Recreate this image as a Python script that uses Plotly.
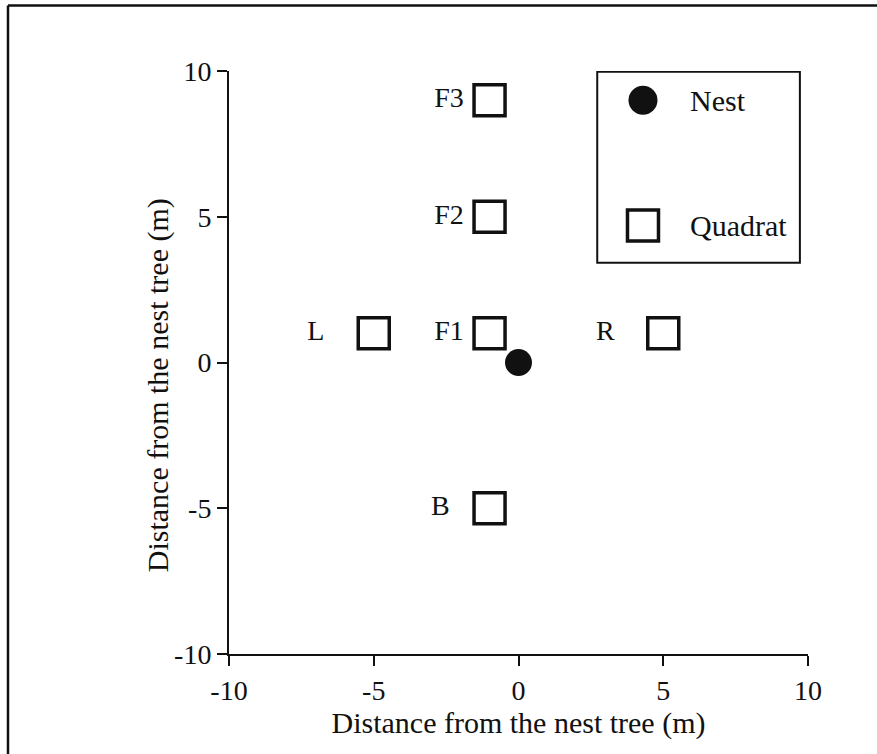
import plotly.graph_objects as go

# Quadrat positions relative to the nest tree (m)
quadrat_names = ["F3", "F2", "F1", "L", "R", "B"]
quadrat_x = [-1, -1, -1, -5, 5, -1]
quadrat_y = [9, 5, 1, 1, 1, -5]
label_x = [-2.4, -2.4, -2.4, -7.0, 3.0, -2.7]

# Nest position
nest_x = [0]
nest_y = [0]

tick_vals = [-10, -5, 0, 5, 10]
tick_text = ["-10", "-5", "0", "5", "10"]

axis_title = "Distance from the nest tree (m)"

FONT = "Liberation Serif, Times New Roman, serif"
INK = "#111111"

fig = go.Figure()

# Quadrats
fig.add_trace(go.Scatter(
    x=quadrat_x, y=quadrat_y, mode="markers",
    marker=dict(symbol="square", size=31, color="white",
                line=dict(color=INK, width=3.5)),
    showlegend=False, hoverinfo="skip", cliponaxis=False,
))

# Quadrat labels
fig.add_trace(go.Scatter(
    x=label_x, y=quadrat_y, mode="text", text=quadrat_names,
    textfont=dict(family=FONT, size=28, color=INK),
    showlegend=False, hoverinfo="skip",
))

# Nest
fig.add_trace(go.Scatter(
    x=nest_x, y=nest_y, mode="markers",
    marker=dict(symbol="circle", size=27, color=INK, line=dict(width=0)),
    showlegend=False, hoverinfo="skip",
))

# Key box with its two entries
key_sym_x = [4.3, 4.3]
key_sym_y = [9.0, 4.7]
fig.add_shape(type="rect", xref="x", yref="y", x0=2.72, x1=9.72, y0=3.42, y1=9.97,
              line=dict(color=INK, width=2), fillcolor="white", layer="below")
fig.add_trace(go.Scatter(
    x=[key_sym_x[0]], y=[key_sym_y[0]], mode="markers",
    marker=dict(symbol="circle", size=29, color=INK, line=dict(width=0)),
    showlegend=False, hoverinfo="skip",
))
fig.add_trace(go.Scatter(
    x=[key_sym_x[1]], y=[key_sym_y[1]], mode="markers",
    marker=dict(symbol="square", size=31, color="white",
                line=dict(color=INK, width=3.5)),
    showlegend=False, hoverinfo="skip",
))
for txt, yy in [("Nest", key_sym_y[0]), ("Quadrat", key_sym_y[1])]:
    fig.add_annotation(x=5.85, y=yy, xref="x", yref="y", text=txt, showarrow=False,
                       xanchor="left", yanchor="middle",
                       font=dict(family=FONT, size=30, color=INK))

# Vertical axis title, set slightly below the plot centre
fig.add_annotation(x=-0.1226, y=0.461, xref="paper", yref="paper", text=axis_title,
                   textangle=-90, showarrow=False, xanchor="center", yanchor="middle",
                   font=dict(family=FONT, size=30, color=INK))

# Page frame (left and top edges)
fig.add_shape(type="line", xref="paper", yref="paper",
              x0=-0.3817, x1=-0.3817, y0=1.1123, y1=-0.2, line=dict(color=INK, width=2.5))
fig.add_shape(type="line", xref="paper", yref="paper",
              x0=-0.3817, x1=1.2, y0=1.1123, y1=1.1123, line=dict(color=INK, width=2.5))

axis_common = dict(
    range=[-10, 10], tickvals=tick_vals, ticktext=tick_text,
    showgrid=False, zeroline=False, showline=True, linecolor=INK, linewidth=2,
    ticks="outside", ticklen=10, tickwidth=2, tickcolor=INK,
    tickfont=dict(family=FONT, size=28, color=INK),
    title_font=dict(family=FONT, size=30, color=INK),
    fixedrange=True,
)

fig.update_layout(
    width=877, height=754,
    margin=dict(l=229, r=69, t=71, b=100),
    paper_bgcolor="white", plot_bgcolor="white",
    xaxis=dict(**axis_common, title=dict(text=axis_title, standoff=4)),
    yaxis=dict(**axis_common),
    showlegend=False,
)

fig.write_html("out.html")
